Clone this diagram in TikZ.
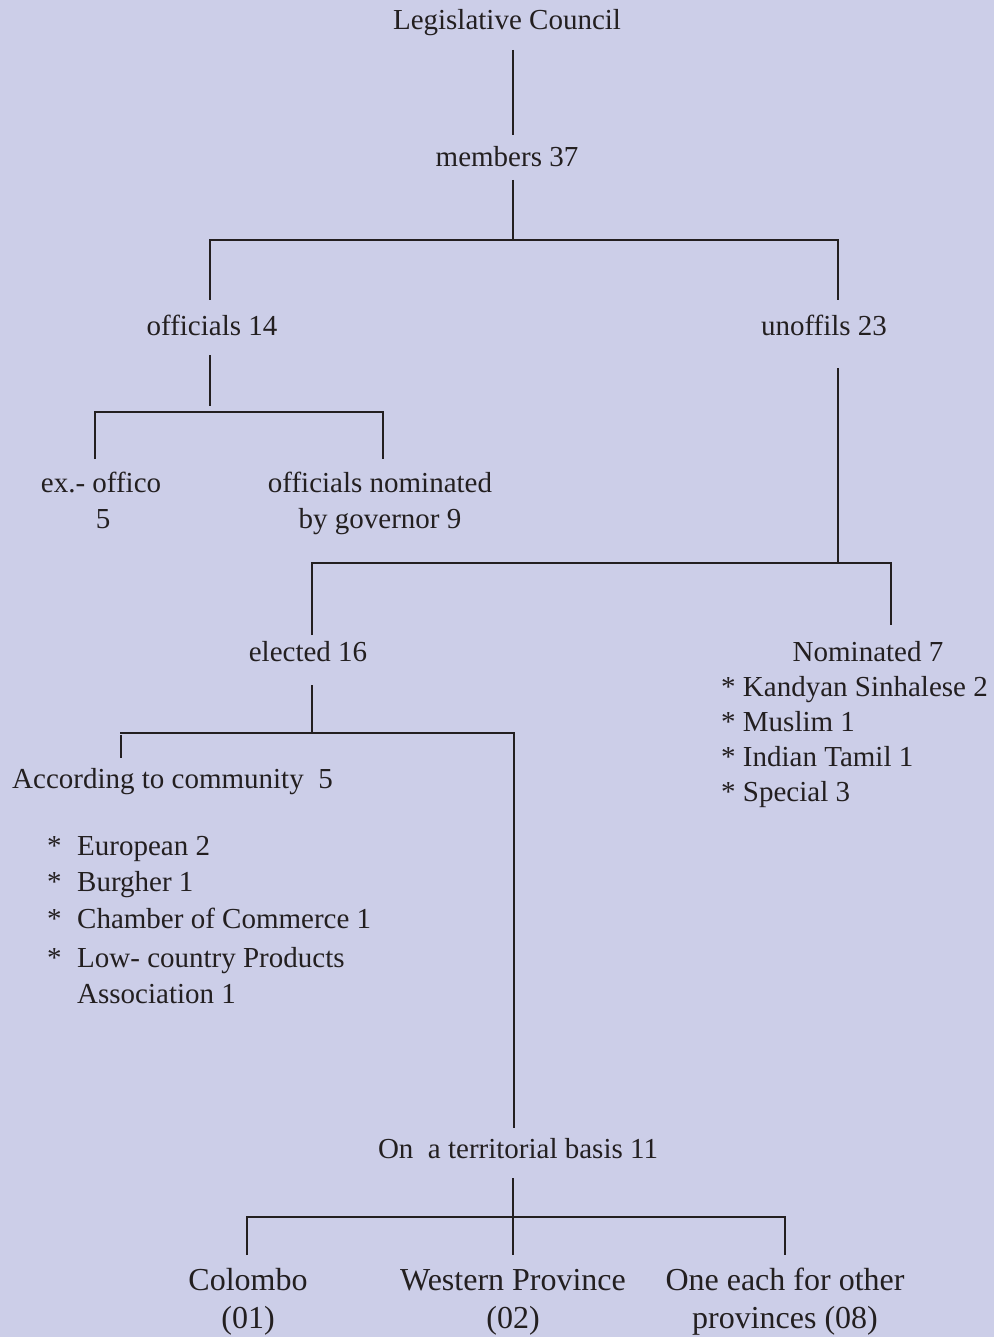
\documentclass[tikz,border=0pt]{standalone}
\usepackage{fontspec}
\setmainfont{Liberation Serif}
\definecolor{bg}{RGB}{204,206,232}
\definecolor{ink}{RGB}{35,31,32}
\begin{document}
\begin{tikzpicture}[x=1pt,y=-1pt,
  lbl/.style={inner sep=0pt, text=ink, font=\fontsize{29}{36}\selectfont, anchor=base},
  lblw/.style={lbl, anchor=base west},
  lblbig/.style={lbl, font=\fontsize{32}{38}\selectfont},
  thinline/.style={draw=ink, line width=1.3pt},
  thickline/.style={draw=ink, line width=2.8pt}]
\fill[bg] (0,0) rectangle (994,1337);
\useasboundingbox (0,0) rectangle (994,1337);

% text nodes
\node[lbl] (lc) at (507,30) {Legislative Council};
\node[lbl] (m37) at (507,167) {members 37};
\node[lbl] (off) at (212,335) {officials 14};
\node[lbl] (unoff) at (824,335) {unoffils 23};
\node[lbl] (exo1) at (101,492) {ex.- offico};
\node[lbl] (exo2) at (103,528) {5};
\node[lbl] (onom1) at (380,492) {officials nominated};
\node[lbl] (onom2) at (380,528) {by governor 9};
\node[lbl] (el) at (308,661) {elected 16};
\node[lbl] (nom) at (868,661) {Nominated 7};
\node[lblw] (n1) at (721,696) {* Kandyan Sinhalese 2};
\node[lblw] (n2) at (721,731) {* Muslim 1};
\node[lblw] (n3) at (721,766) {* Indian Tamil 1};
\node[lblw] (n4) at (721,801) {* Special 3};
\node[lblw] (acc) at (12,788) {According to community~ 5};
\node[lblw] (s1) at (47,855) {*};
\node[lblw] (s2) at (47,891) {*};
\node[lblw] (s3) at (47,928) {*};
\node[lblw] (s4) at (47,967) {*};
\node[lblw] (c1) at (77,855) {European 2};
\node[lblw] (c2) at (77,891) {Burgher 1};
\node[lblw] (c3) at (77,928) {Chamber of Commerce 1};
\node[lblw] (c4) at (77,967) {Low- country Products};
\node[lblw] (c5) at (77,1003) {Association 1};
\node[lbl] (terr) at (518,1158) {On~ a territorial basis 11};
\node[lblbig] (col1) at (248,1290) {Colombo};
\node[lblbig] (col2) at (248,1328) {(01)};
\node[lblbig] (wp1) at (513,1290) {Western Province};
\node[lblbig] (wp2) at (513,1328) {(02)};
\node[lblbig] (oe1) at (785,1290) {One each for other};
\node[lblbig] (oe2) at (785,1328) {provinces (08)};

% joints
\coordinate (lcB) at (513,50);
\coordinate (mT) at (513,135);
\coordinate (mB) at (513,180);
\coordinate (j1) at (513,240);
\coordinate (j1L) at (210,240);
\coordinate (j1R) at (838,240);
\coordinate (offT) at (210,300);
\coordinate (unoffT) at (838,300);
\coordinate (offB) at (210,355);
\coordinate (offJ) at (210,406);
\coordinate (j2L) at (95,412);
\coordinate (j2R) at (383,412);
\coordinate (exoT) at (95,459);
\coordinate (onomT) at (383,459);
\coordinate (unoffB) at (838,368);
\coordinate (j3) at (838,563);
\coordinate (j3L) at (312,563);
\coordinate (j3R) at (891,563);
\coordinate (elT) at (312,635);
\coordinate (nomT) at (891,625);
\coordinate (elB) at (312,685);
\coordinate (j4) at (312,733);
\coordinate (j4L) at (120,733);
\coordinate (j4R) at (514,733);
\coordinate (tickT) at (121,735);
\coordinate (tickB) at (121,758);
\coordinate (terrT) at (514,1128);
\coordinate (terrB) at (513,1178);
\coordinate (j5) at (513,1217);
\coordinate (j5L) at (247,1217);
\coordinate (j5R) at (785,1217);
\coordinate (colT) at (247,1255);
\coordinate (wpT) at (513,1255);
\coordinate (oeT) at (785,1255);

% connectors
\draw[thinline] (lcB) -- (mT);
\draw[thinline] (mB) -- (j1);
\draw[thinline] (offT) -- (j1L) -- (j1R) -- (unoffT);
\draw[thinline] (offB) -- (offJ);
\draw[thinline] (exoT) -- (j2L) -- (j2R) -- (onomT);
\draw[thinline] (unoffB) -- (j3);
\draw[thinline] (elT) -- (j3L) -- (j3R) -- (nomT);
\draw[thinline] (elB) -- (j4);
\draw[thinline] (j4L) -- (j4R) -- (terrT);
\draw[draw=ink, line width=2.4pt] (tickT) -- (tickB);
\draw[thickline] (terrB) -- (wpT);
\draw[thickline] (colT) -- (j5L) -- (j5R) -- (oeT);
\end{tikzpicture}
\end{document}
